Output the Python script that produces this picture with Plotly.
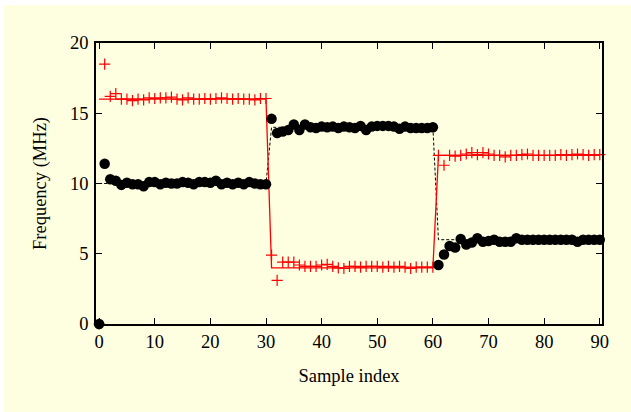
import plotly.graph_objects as go

# ---- data ----
sample_index = list(range(0, 91))

# measured frequency, series 1 (black dots)
meas_black = [
    0.0, 11.4, 10.3, 10.2, 9.9, 10.05, 9.95, 9.95, 9.8, 10.1,
    10.1, 9.95, 10.05, 10.0, 10.0, 10.1, 10.05, 9.95, 10.1, 10.1,
    10.05, 10.2, 9.95, 10.05, 9.95, 10.05, 9.95, 10.1, 10.0, 9.95,
    9.95, 14.6, 13.6, 13.7, 13.8, 14.2, 13.8, 14.2, 14.0, 13.95,
    14.05, 14.0, 14.05, 13.95, 14.05, 14.0, 13.95, 14.1, 13.8, 14.05,
    14.1, 14.1, 14.1, 14.05, 13.9, 14.05, 13.95, 13.95, 13.95, 13.95,
    14.0, 4.2, 4.95, 5.55, 5.45, 6.05, 5.65, 5.8, 6.1, 5.85,
    5.9, 6.0, 5.85, 5.85, 5.85, 6.1, 6.0, 6.0, 6.0, 6.0,
    6.0, 6.0, 6.0, 6.0, 6.0, 6.0, 5.85, 6.0, 6.0, 6.0,
    6.0,
]

# measured frequency, series 2 (red pluses)
meas_red = [
    0.0, 18.5, 16.2, 16.4, 16.0, 16.0, 15.9, 16.0, 15.95, 16.1,
    16.05, 16.1, 16.1, 16.15, 16.0, 15.95, 16.1, 16.0, 16.0, 16.05,
    16.0, 16.05, 16.1, 16.05, 16.0, 16.05, 16.0, 16.0, 15.95, 16.05,
    16.05, 4.9, 3.1, 4.4, 4.4, 4.4, 4.2, 4.1, 4.1, 4.1,
    4.2, 4.25, 4.1, 4.0, 3.95, 4.1, 4.1, 4.05, 4.1, 4.1,
    4.1, 4.05, 4.1, 4.05, 4.1, 4.05, 3.95, 4.05, 4.05, 4.05,
    4.05, 12.0, 11.3, 12.0, 11.95, 12.0, 12.1, 12.2, 12.05, 12.2,
    12.1, 12.0, 12.0, 11.9, 12.0, 12.0, 12.05, 12.1, 12.0, 12.0,
    12.0, 12.0, 12.0, 12.05, 12.0, 12.05, 12.1, 12.05, 12.0, 12.05,
    12.05,
]

# true frequencies (reference lines)
true_black = [10.0] * 31 + [14.0] * 30 + [6.0] * 30
true_red = [16.0] * 31 + [4.0] * 30 + [12.0] * 30

x_ticks = [0, 10, 20, 30, 40, 50, 60, 70, 80, 90]
y_ticks = [0, 5, 10, 15, 20]

FONT = "Liberation Serif"

W, H = 631, 412
ML, MR, MT, MB = 96, 29, 43, 88
PW, PH = W - ML - MR, H - MT - MB

fig = go.Figure()

fig.add_trace(go.Scatter(
    x=sample_index, y=true_black, mode="lines",
    line=dict(color="black", width=1, dash="3px,2px"),
    showlegend=False, cliponaxis=False,
))
fig.add_trace(go.Scatter(
    x=sample_index, y=true_red, mode="lines",
    line=dict(color="#ff0000", width=1.3),
    showlegend=False, cliponaxis=False,
))
fig.add_trace(go.Scatter(
    x=sample_index, y=meas_red, mode="markers",
    marker=dict(symbol="cross-thin", size=8,
                line=dict(color="#ff0000", width=1.2), color="#ff0000"),
    showlegend=False, cliponaxis=False,
))
fig.add_trace(go.Scatter(
    x=sample_index, y=meas_black, mode="markers",
    marker=dict(symbol="circle", size=10.5, color="black"),
    showlegend=False, cliponaxis=False,
))

axis_common = dict(
    showgrid=False, zeroline=False, showline=True, linecolor="black",
    linewidth=1.5, mirror="ticks", ticks="inside", ticklen=6,
    tickwidth=1, tickcolor="black",
    tickfont=dict(family=FONT, size=18.5, color="black"),
)

fig.update_xaxes(
    range=[-0.56, 90.4], tickvals=x_ticks,
    title=dict(text="Sample index", font=dict(family=FONT, size=18.5, color="black"),
               standoff=18),
    automargin=False,
    **axis_common,
)
fig.update_yaxes(
    range=[0, 20], tickvals=y_ticks,
    title=dict(text="Frequency (MHz)", font=dict(family=FONT, size=18.5, color="black"),
               standoff=19),
    automargin=False, ticklabelstandoff=2,
    **axis_common,
)

fig.update_layout(
    width=W, height=H,
    margin=dict(l=ML, r=MR, t=MT, b=MB, pad=0),
    paper_bgcolor="white",
    plot_bgcolor="white",
    shapes=[dict(
        type="rect", xref="paper", yref="paper", layer="below",
        x0=(4 - ML) / PW, x1=1 + MR / PW, y0=-MB / PH, y1=1 + (MT - 5) / PH,
        fillcolor="#fefee1", line=dict(width=0),
    )],
)

fig.write_html(
    "out.html",
    config={"displayModeBar": False},
    post_script="document.body.style.margin='0px';",
)
